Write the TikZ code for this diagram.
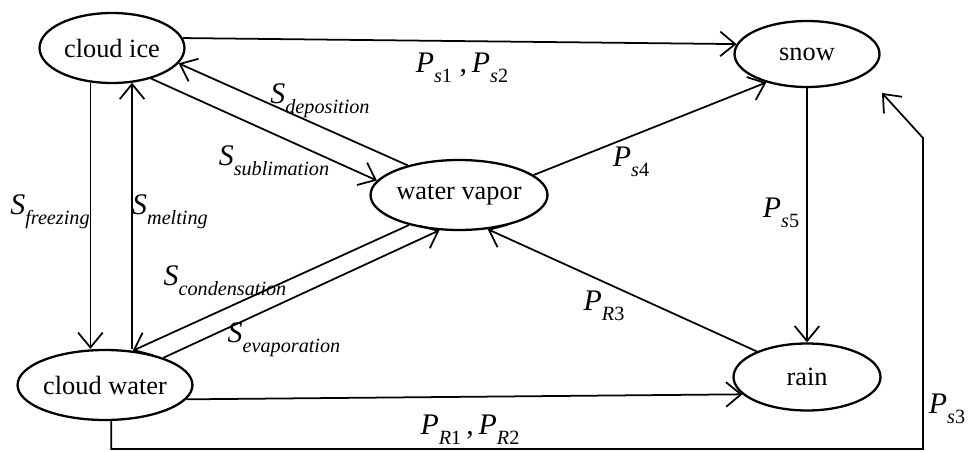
\documentclass[tikz,border=0pt]{standalone}
\usepackage{fontspec}
\setmainfont{Liberation Serif}
\usetikzlibrary{arrows.meta, shapes.geometric, calc}
\tikzset{
  phase/.style={ellipse, draw, line width=1.3pt, inner sep=0pt,
    font=\fontsize{15}{18}\selectfont},
  flow/.style={line width=1pt,
    -{Straight Barb[length=8.5pt, width=14pt, line width=1pt]}},
  rate/.style={inner sep=0pt, font=\fontsize{17}{20}\selectfont},
}
\newcommand{\rsub}[2]{\textit{#1}\raisebox{-5.5pt}{\fontsize{11.5}{13}\selectfont\itshape #2}}
\newcommand{\rnum}[1]{\raisebox{-5.5pt}{\fontsize{11.5}{13}\selectfont #1}}

\begin{document}
\begin{tikzpicture}[x=0.02cm, y=-0.02cm]
  \useasboundingbox (0,0) rectangle (969,452);

  % === Phasen ===
  \node[phase, minimum width=2.9cm,  minimum height=1.4cm]  (ice)    at (112,48)  {cloud ice};
  \node[phase, minimum width=2.9cm,  minimum height=1.32cm] (snow)   at (807,54)  {snow};
  \node[phase, minimum width=3.36cm, minimum height=1.4cm]  (vapor)  at (459,195) {water vapor};
  \node[phase, minimum width=3.32cm, minimum height=1.4cm]  (cwater) at (105,385) {cloud water};
  \node[phase, minimum width=2.94cm, minimum height=1.34cm] (rain)   at (807,377) {rain};

  % === Hilfspunkte fuer P_s3 ===
  \coordinate (s3low)  at (923,449);
  \coordinate (s3bend) at (923,138);
  \coordinate (s3tip)  at (882,93);

  % === Fluesse ===
  \draw[flow] (ice.8) -- (snow.172);
  \draw[flow] (vapor.150) -- (ice.347);
  \draw[flow] (ice.322) -- (vapor.170);
  \draw[flow] (ice.238) -- (ice.238 |- cwater.north);
  \draw[flow] (ice.300 |- cwater.north) -- (ice.300);
  \draw[flow] (vapor.211) -- (cwater.51);
  \draw[flow] (cwater.25) -- (vapor.241);
  \draw[flow] (vapor.15) -- (snow.215);
  \draw[flow] (snow.south) -- (rain.north);
  \draw[flow] (rain.153) -- (vapor.310);
  \draw[flow] (cwater.350) -- (rain.195);
  \draw[flow] (cwater.280) |- (s3low) -- (s3bend) -- (s3tip);

  % === Raten ===
  \node[rate] (lps12) at (462,68)  {\rsub{P}{s}\rnum{1}\ ,\,\rsub{P}{s}\rnum{2}};
  \node[rate] (ldep)  at (320,101) {\rsub{S}{deposition}};
  \node[rate] (lsub)  at (274,161) {\rsub{S}{sublimation}};
  \node[rate] (lfrz)  at (50,212)  {\rsub{S}{freezing}};
  \node[rate] (lmelt) at (170,212) {\rsub{S}{melting}};
  \node[rate] (lcond) at (225,281) {\rsub{S}{condensation}};
  \node[rate] (levap) at (284,340) {\rsub{S}{evaporation}};
  \node[rate] (lps4)  at (631,162) {\rsub{P}{s}\rnum{4}};
  \node[rate] (lps5)  at (781,213) {\rsub{P}{s}\rnum{5}};
  \node[rate] (lpr3)  at (604,306) {\rsub{P}{R}\rnum{3}};
  \node[rate] (lpr12) at (470,430) {\rsub{P}{R}\rnum{1}\,,\,\rsub{P}{R}\rnum{2}};
  \node[rate] (lps3)  at (947,409) {\rsub{P}{s}\rnum{3}};
\end{tikzpicture}
\end{document}
